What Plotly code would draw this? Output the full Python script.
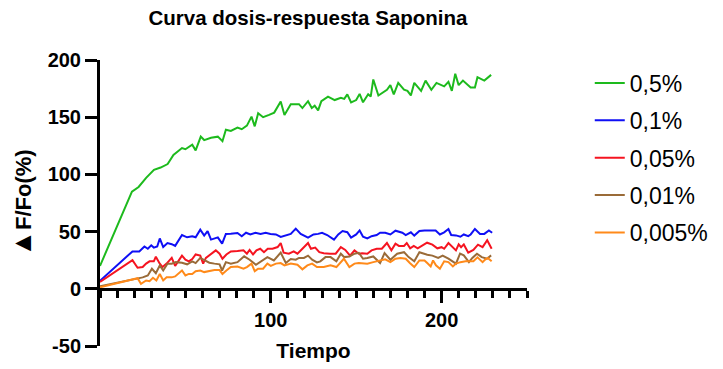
import plotly.graph_objects as go

# ---- data ----
series_names = ["0,5%", "0,1%", "0,05%", "0,01%", "0,005%"]

t_green = [0, 18.7, 22.6, 27, 31.6, 35.5, 39.6, 43, 48, 50, 54, 56, 59, 61, 65, 69, 71.7, 73.7,
           76.6, 80.5, 83, 86, 88.7, 90.6, 92.6, 95.5, 99, 102, 105.8, 108, 111.7, 116.5, 118.5,
           121.8, 124, 125.7, 127.7, 129.6, 133.5, 137.4, 141, 143, 144.8, 147, 150, 152, 154,
           157, 158.5, 160, 163, 168, 170, 172, 174.6, 178, 180, 182, 184, 188, 190.6, 194, 197,
           201.5, 204, 206, 208, 210, 212.5, 217, 219.5, 221, 225, 229]
v_green = [20, 85, 89, 97, 104, 106, 109, 117, 123, 122, 126, 121, 133, 130, 132, 133, 129, 139,
           138, 141, 139.5, 142.6, 150.5, 142, 153.5, 150, 152, 154, 163.7, 152, 161.4, 161.4, 158,
           164, 158, 160, 156, 164, 168, 165, 167, 166, 170, 163, 165, 170.4, 163,
           170, 168, 183, 169, 174, 178, 170, 180, 174, 173, 169, 180, 173, 182, 174, 180,
           177, 181, 173, 188, 178, 182, 176, 176, 185, 182, 187]

t_blue = [0, 19, 23, 26, 28, 30, 31.5, 33.5, 35, 37, 39.5, 42, 44, 48, 51, 54, 56, 58.7, 61, 63,
          65, 69, 71.5, 73.7, 76.6, 80.5, 83, 85.5, 88, 91, 94, 97, 99.8, 103, 105.8, 109.6, 111.7,
          114.6, 117.5, 121.8, 125, 127.7, 130, 133, 137, 139.5, 142, 144.8, 147, 150, 152, 154,
          156.5, 159, 162, 164, 167, 170, 173, 177, 179, 182, 184, 187, 190, 194.6, 196.5, 199,
          201.5, 204, 205.6, 208.4, 211, 213, 215.6, 217, 219.5, 222.5, 225, 227.7, 229.6]
v_blue = [7, 32.7, 32.7, 37, 35, 38, 36, 37, 44, 36.5, 40, 39, 37.5, 47, 45, 46, 45, 51.7, 46.5, 50.5,
          43, 45, 39.5, 48, 48.2, 48.8, 46, 49, 47.5, 49, 48, 49, 48, 47.5, 45.4, 47.5, 48,
          52.6, 48, 44.7, 47.5, 48, 49, 47, 43, 47.5, 50.5, 49.5, 44.7, 47.5, 51, 45.5,
          44, 46, 47, 49, 49, 47.5, 50.8, 49, 47, 49.4, 46.5, 50.5, 51, 51, 51, 47.5,
          49.4, 52.3, 47, 46.7, 45.5, 47.5, 46, 47.5, 52.3, 48, 48, 51, 49]

t_red = [0, 19, 22, 25, 27, 29, 31.5, 32.7, 35, 36.6, 39, 42, 44, 48, 50, 52, 54, 56, 58.7, 60.4,
         62, 65, 67.8, 70, 71.7, 74, 76.6, 80.5, 84, 86, 87.6, 89.6, 91.6, 93.8, 96, 98.2, 101,
         104, 105.8, 107.5, 110.6, 113.4, 115.6, 118.5, 121.8, 123.5, 126, 128.4, 131, 134.7, 138,
         141, 143.6, 146.4, 149, 151.5, 153.5, 156.5, 159, 162, 165, 168, 170.6, 173, 175, 178,
         179.6, 181.6, 183.7, 186, 188.6, 191.5, 194.6, 197.5, 200, 201.5, 204, 206.5, 208.4, 210,
         211.4, 213, 215.6, 218.6, 221.3, 224, 226.7, 229.3]
v_red = [6, 25, 18.4, 19, 22, 24, 24, 28, 22, 19, 22, 27, 20, 29, 25.5, 24, 26, 30, 29, 22,
         27, 30.7, 33.6, 30.7, 26.3, 30, 32.7, 33, 33.6, 30.7, 34, 30, 33.6, 35, 32, 35, 35,
         36.5, 40, 31.6, 30.7, 32.7, 30.7, 35, 40, 35, 36, 32, 31, 30.7, 30.7,
         36.5, 34, 29, 33.6, 30.7, 31, 30.7, 33.6, 35, 35, 40, 33.6, 39.4, 37.5, 37.5,
         40, 35.4, 37.4, 35.4, 38, 40.3, 38.6, 35.4, 36.4, 35, 40, 36.4, 33.6, 38.8,
         36.4, 38.8, 31.6, 34, 38.6, 36.4, 42.4, 35]

t_brown = [0, 22, 25, 28, 30.4, 32.7, 35, 37, 39.5, 42, 44.4, 48, 51, 54, 56, 58.7, 61, 64, 67, 70,
           71.5, 73.7, 76.6, 80.5, 84.4, 87.6, 91.3, 94, 98, 101.8, 105.8, 108.8, 111.7, 114.6,
           116.5, 119.4, 121.8, 124.2, 127, 129, 132, 135, 138.4, 141, 143, 146, 149, 151.5, 154,
           156.5, 160, 164, 166.6, 170, 174, 178, 180.7, 184, 187, 191.6, 194.6, 198, 200.6, 204,
           208.4, 210.8, 213, 216, 218, 220.7, 223.5, 226.6, 229]
v_brown = [2.3, 9.3, 10, 11.7, 17.5, 13.7, 20.4, 16, 22, 22, 23.3, 22.8, 21.4, 24, 22.5, 27, 25, 22.8, 22, 21.4,
           16, 23.3, 22, 23.3, 28.4, 25.4, 21, 24, 27.7, 24.8, 31.6, 22.5, 26, 25.4,
           27, 27, 29, 25.4, 23, 24, 27.7, 27.7, 24, 30.7, 27.7, 28.3, 30.7, 31.5, 26.3,
           27, 28.3, 22.5, 31.2, 25.4, 30.7, 32, 27.7, 24, 32, 29.8, 29, 27, 29, 26.3,
           22, 30.7, 29.2, 23.3, 27, 30.7, 27.7, 26.3, 29.2]

t_orange = [0, 22, 24, 27, 29, 31, 33, 35, 37, 39, 42, 44, 48, 50, 52, 54, 56, 58.7, 61, 64, 67, 70,
            71.7, 74, 76.6, 80.5, 84, 86, 88.7, 90.6, 92.6, 95.5, 98, 100, 103, 105.8, 108, 111.7,
            115.6, 118.5, 121.4, 124.2, 127, 131, 135, 138.4, 142.8, 146, 149, 151.5, 154, 156.5,
            160, 164, 167, 170, 173, 176, 179, 181.4, 184, 187, 190, 191.6, 193.6, 195, 196.7, 199,
            201.5, 204, 206.6, 208.4, 211, 214, 216, 218.6, 221, 224, 225.5, 227, 229.3]
v_orange = [1.4, 9.3, 4.4, 7.3, 6.7, 9.6, 7.3, 13, 7.3, 10, 10, 10.8, 16, 11.7, 13, 13, 15.4, 16, 14.6, 15.4, 16.4, 16.4,
            13, 16, 19, 19.5, 17.6, 19, 22, 15.4, 17.6, 17.6, 22, 20, 22, 22.5, 20.5, 22,
            21, 17, 20.5, 22, 19, 19, 20.5, 19, 26.3, 19, 22, 22.5, 22.5, 22,
            23.3, 24.8, 25.7, 23.3, 26.3, 27, 26.3, 22.5, 19, 24.8, 24.8, 22.5, 19.5, 24.8, 20.5, 17.5,
            24, 23.3, 19.5, 22, 23.3, 24, 24, 24, 27.5, 23.3, 25.5, 27, 24]

y_ticks = [-50, 0, 50, 100, 150, 200]
x_ticks = [100, 200]

times = [t_green, t_blue, t_red, t_brown, t_orange]
values = [v_green, v_blue, v_red, v_brown, v_orange]
colors = ["#1DBA1D", "#0F0FF5", "#F51420", "#9A6B38", "#FF8A1A"]

for tt, vv in zip(times, values):
    assert len(tt) == len(vv), (len(tt), len(vv))

FONT = "Liberation Sans, Arial, sans-serif"

fig = go.Figure()
for i, (name, tt, vv, c) in enumerate(zip(series_names, times, values, colors)):
    fig.add_trace(go.Scatter(x=tt, y=vv, mode="lines", name=name,
                             line=dict(color=c, width=2), legendgroup=f"g{i}"))

fig.update_layout(
    width=723, height=369,
    margin=dict(l=100, r=196, t=60, b=23, autoexpand=False),
    plot_bgcolor="white", paper_bgcolor="white",
    title=dict(text="<b>Curva dosis-respuesta Saponina</b>", x=0.426, xref="container",
               y=0.952, yref="container", xanchor="center", yanchor="middle",
               font=dict(family=FONT, size=20.5, color="black")),
    legend=dict(x=1.147, xanchor="left", y=0.995, yanchor="top",
                font=dict(family=FONT, size=23, color="black"),
                tracegroupgap=4.5, bgcolor="rgba(0,0,0,0)"),
    showlegend=True,
)

fig.update_xaxes(
    range=[0, 250], anchor="free", position=0.2,
    tickvals=x_ticks, ticktext=[str(v) for v in x_ticks],
    ticks="outside", ticklen=12, tickwidth=3, tickcolor="black",
    showline=True, linewidth=3, linecolor="black",
    showgrid=False, zeroline=False,
    tickfont=dict(family=FONT, size=20, color="black", weight="bold"),
    ticklabelstandoff=0,
    minor=dict(dtick=10, tick0=0, ticks="outside", ticklen=7, tickwidth=3, tickcolor="black", showgrid=False),
    title=dict(text="<b>Tiempo</b>", font=dict(family=FONT, size=21, color="black"), standoff=13),
    automargin=False,
)
fig.update_yaxes(
    range=[-50, 200], tickvals=y_ticks, ticktext=[str(v) for v in y_ticks],
    ticks="outside", ticklen=12, tickwidth=3, tickcolor="black",
    showline=True, linewidth=3, linecolor="black",
    showgrid=False, zeroline=False,
    tickfont=dict(family=FONT, size=20, color="black", weight="bold"),
    title=dict(text="<b><span style='font-size:27px'>▲</span>F/Fo(%)</b>",
               font=dict(family=FONT, size=22, color="black"), standoff=10),
    automargin=False,
)

fig.write_html("out.html", config={"displayModeBar": False},
               post_script="document.body.style.margin='0';document.body.style.padding='0';")
